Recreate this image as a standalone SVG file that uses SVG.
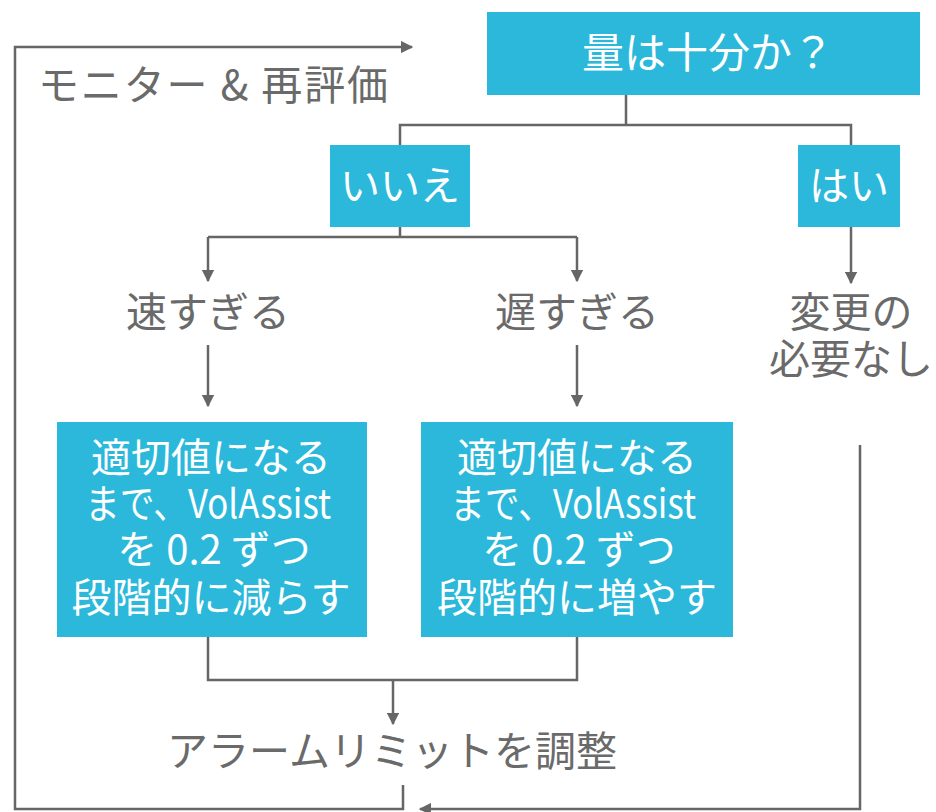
<svg xmlns="http://www.w3.org/2000/svg" width="936" height="812" viewBox="0 0 936 812">
<defs>
<marker id="ah" viewBox="0 0 10 10" refX="9" refY="5" markerWidth="5" markerHeight="5" markerUnits="strokeWidth" orient="auto">
<path d="M0,0 L10,5 L0,10 z" fill="#666"/>
</marker>
<style>
.box{fill:#2bb8db}
.wt{fill:#fff;font-family:"Noto Sans CJK JP","Noto Sans",sans-serif;font-size:40px;text-anchor:middle}
.gt{fill:#6a6a6a;font-family:"Noto Sans CJK JP","Noto Sans",sans-serif;font-size:41px;text-anchor:middle}
.ln{fill:none;stroke:#666;stroke-width:2.5}
</style>
</defs>
<rect width="936" height="812" fill="#fff"/>
<g id="connectors">
<path class="ln" d="M626,95 V125 M400,145 V125 H851 V145"/>
<path class="ln" d="M400,227 V237 M208,237 H577"/>
<path class="ln" d="M208,237 V281" marker-end="url(#ah)"/>
<path class="ln" d="M577,237 V281" marker-end="url(#ah)"/>
<path class="ln" d="M851,227 V283" marker-end="url(#ah)"/>
<path class="ln" d="M208,345 V406" marker-end="url(#ah)"/>
<path class="ln" d="M577,345 V406" marker-end="url(#ah)"/>
<path class="ln" d="M208,637 V680 H577 V637"/>
<path class="ln" d="M393,680 V724" marker-end="url(#ah)"/>
<path class="ln" d="M403,785 V809 H15 V47 H412" marker-end="url(#ah)"/>
<path class="ln" d="M860,445 V809 H420" marker-end="url(#ah)"/>
</g>
<g id="n-question">
<rect class="box" x="487" y="12" width="433" height="83"/>
<text class="wt" x="708" y="68" style="font-size:42px">量は十分か？</text>
</g>
<g id="n-no">
<rect class="box" x="330" y="145" width="140" height="82"/>
<text class="wt" x="400" y="200">いいえ</text>
</g>
<g id="n-yes">
<rect class="box" x="798" y="145" width="102" height="82"/>
<text class="wt" x="849" y="200">はい</text>
</g>
<g id="n-fast">
<text class="gt" x="208" y="327">速すぎる</text>
</g>
<g id="n-slow">
<text class="gt" x="577" y="327">遅すぎる</text>
</g>
<g id="n-nochange">
<text class="gt" x="851" y="327">変更の</text>
<text class="gt" x="851" y="374">必要なし</text>
</g>
<g id="n-decrease">
<rect class="box" x="57" y="422" width="310" height="215"/>
<text class="wt" x="211" y="472">適切値になる</text>
<text class="wt" x="208" y="518" textLength="246" lengthAdjust="spacingAndGlyphs">まで、VolAssist</text>
<text class="wt" x="214" y="564">を 0.2 ずつ</text>
<text class="wt" x="211" y="612">段階的に減らす</text>
</g>
<g id="n-increase">
<rect class="box" x="421" y="422" width="312" height="215"/>
<text class="wt" x="577" y="472">適切値になる</text>
<text class="wt" x="573" y="518" textLength="246" lengthAdjust="spacingAndGlyphs">まで、VolAssist</text>
<text class="wt" x="579" y="564">を 0.2 ずつ</text>
<text class="wt" x="577" y="612">段階的に増やす</text>
</g>
<g id="n-alarm">
<text class="gt" x="392" y="766">アラームリミットを調整</text>
</g>
<g id="n-monitor">
<text class="gt" x="38" y="100" style="text-anchor:start" textLength="350">モニター &amp; 再評価</text>
</g>
</svg>
